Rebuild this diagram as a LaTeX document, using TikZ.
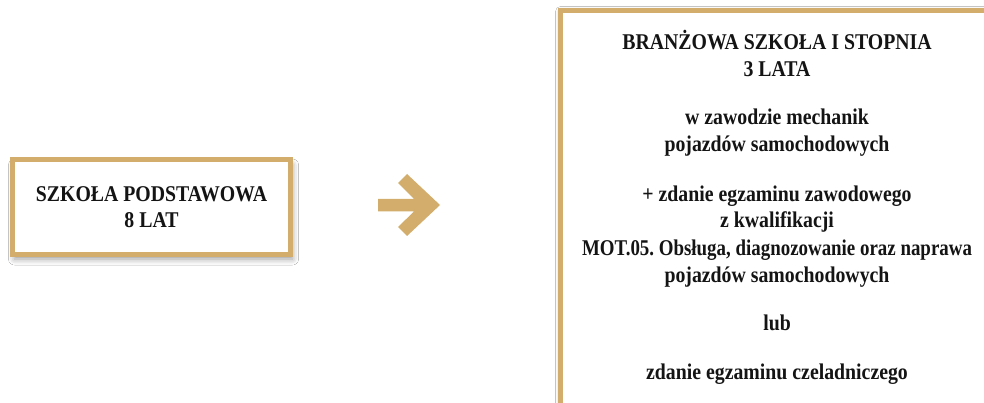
\documentclass[tikz,border=0pt]{standalone}
\usepackage{fontspec}
\setmainfont{Liberation Serif}[FakeStretch=0.88]
\usetikzlibrary{shadows.blur}
\definecolor{gold}{RGB}{211,173,107}
\definecolor{ink}{RGB}{20,20,20}
\tikzset{
  goldbox/.style={draw=gold, line width=5pt, fill=white, rectangle, inner sep=0pt},
  boxshadow/.style={blur shadow={shadow xshift=2pt, shadow yshift=-5pt, shadow blur radius=6pt, shadow opacity=40}},
  txt/.style={font=\bfseries\fontsize{22.5}{26.5}\selectfont, text=ink, inner sep=0pt, anchor=base, align=center},
}
\frenchspacing
\begin{document}
\begin{tikzpicture}[x=1pt, y=-1pt]
\useasboundingbox (0,0) rectangle (984,403);
\clip (0,0) rectangle (984,403);
\fill[white] (0,0) rectangle (984,403);
% left box
\node[goldbox, boxshadow, minimum width=278pt, minimum height=94pt, txt, anchor=center] (sp) at (151.5,207)
  {SZKOŁA PODSTAWOWA\\8 LAT};
% arrow
\fill[gold] (378,199) -- (414,199) -- (398,183) -- (407,174) -- (440,205)
  -- (407,236) -- (398,227) -- (414,211.5) -- (378,211.5) -- cycle;
% right box
\node[goldbox, blur shadow={shadow xshift=0pt, shadow yshift=-1pt, shadow blur radius=5pt, shadow opacity=30},
  minimum width=439.5pt, minimum height=394.5pt] (bs) at (780.25,207.75) {};
\node[txt] (t1) at (777,50) {BRANŻOWA SZKOŁA I STOPNIA};
\node[txt] (t2) at (777,77) {3 LATA};
\node[txt] (t3) at (777,125) {w zawodzie mechanik};
\node[txt] (t4) at (777,152) {pojazdów samochodowych};
\node[txt] (t5) at (777,202) {+ zdanie egzaminu zawodowego};
\node[txt] (t6) at (777,228) {z kwalifikacji};
\node[txt, xscale=0.955, transform shape] (t7) at (777,255) {MOT.05. Obsługa, diagnozowanie oraz naprawa};
\node[txt] (t8) at (777,282) {pojazdów samochodowych};
\node[txt] (t9) at (777,330) {lub};
\node[txt] (t10) at (777,379) {zdanie egzaminu czeladniczego};
\end{tikzpicture}
\end{document}
